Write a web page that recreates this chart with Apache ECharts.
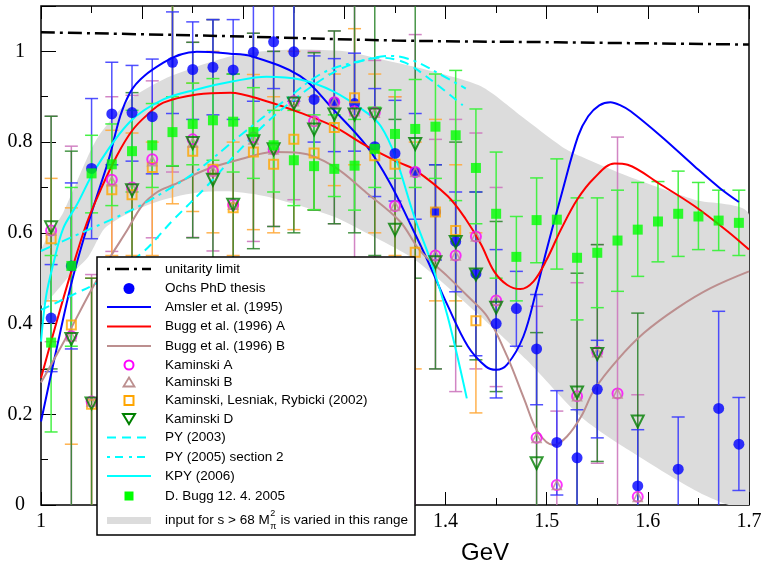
<!DOCTYPE html>
<html><head><meta charset="utf-8">
<script src="https://cdn.jsdelivr.net/npm/echarts@6/dist/echarts.min.js"></script>
<style>html,body{margin:0;padding:0;background:#fff}#c{width:763px;height:566px}</style>
</head><body><div id="c"></div>
<script>
// ---------- data ----------
const xs = [1.01,1.03,1.05,1.07,1.09,1.11,1.13,1.15,1.17,1.19,1.21,1.23,1.25,1.27,1.29,1.31,1.33,1.35,1.37,1.39,1.41,1.43,1.45,1.47,1.49,1.51,1.53,1.55,1.57,1.59,1.61,1.63,1.65,1.67,1.69];

const ochsY  = [0.412,0.527,0.742,0.862,0.865,0.856,0.976,0.960,0.965,0.959,0.998,1.021,0.999,0.894,0.888,0.885,0.790,0.775,0.734,0.646,0.581,0.510,0.400,0.433,0.344,0.138,0.104,0.255,null,0.042,null,0.079,null,0.213,0.134];
const ochsLo = [0.294,0.344,0.587,0.75,0.758,0.73,0.863,0.85,0.86,0.85,0.89,0.918,0.89,0.80,0.779,0.78,0.68,0.67,0.63,0.54,0.47,0.329,0.236,0.35,0.221,0.022,0.0,0.148,null,0.0,null,0.0,null,0.0,0.032];
const ochsHi = [0.53,0.71,0.896,0.976,0.969,0.983,1.087,1.065,1.07,1.07,1.11,1.12,1.11,0.99,0.984,0.996,0.918,0.892,0.863,0.75,0.69,0.69,0.563,0.515,0.464,0.252,0.21,0.363,null,0.166,null,0.194,null,0.427,0.237];

const buggY  = [0.358,0.527,0.731,0.751,0.780,0.793,0.822,0.840,0.848,0.845,0.822,0.793,0.760,0.747,0.741,0.748,0.785,0.818,0.829,0.834,0.815,0.743,0.642,0.547,0.628,0.629,0.545,0.556,0.583,0.607,0.625,0.642,0.636,0.627,0.622];
const buggLo = [0.161,0.35,0.644,0.66,0.69,0.70,0.748,0.75,0.76,0.734,0.72,0.69,0.66,0.651,0.68,0.65,0.70,0.72,0.70,0.72,0.671,0.62,0.50,0.45,0.534,0.52,0.408,0.435,0.471,0.504,0.536,0.548,0.563,0.561,0.55];
const buggHi = [0.55,0.70,0.815,0.84,0.87,0.885,0.90,0.93,0.94,0.95,0.92,0.87,0.87,0.86,0.86,0.85,0.877,0.915,0.938,0.95,0.958,0.873,0.778,0.636,0.721,0.763,0.677,0.677,0.694,0.711,0.713,0.736,0.711,0.694,0.694];

const kamA  = [0.605,0.372,0.228,0.717,0.700,0.762,null,0.806,0.736,0.662,0.810,0.784,0.890,0.846,0.888,0.868,0.865,0.659,0.734,0.550,0.550,0.592,0.451,null,0.148,0.044,0.240,0.337,0.246,0.018,null,null,null,null,null];
const kamB  = [0.605,0.372,0.228,0.714,0.700,0.758,null,0.799,0.736,0.662,0.806,0.784,0.890,0.846,0.888,0.868,0.865,0.659,0.734,0.550,0.550,0.592,0.451,null,0.148,0.044,0.240,0.337,0.246,0.018,null,null,null,null,null];
const kamLR = [0.587,0.397,0.222,0.695,0.684,0.744,null,0.780,0.740,0.655,0.778,0.751,0.806,0.776,0.832,0.898,0.770,0.751,0.557,0.646,0.605,0.406,null,null,null,null,null,null,null,null,null,null,null,null,null];
const kamD  = [0.612,0.366,0.224,null,0.694,null,null,0.798,0.717,0.662,0.802,0.784,0.885,0.828,0.861,0.861,0.861,0.607,0.796,0.535,0.580,0.508,0.435,null,0.092,null,0.248,0.333,null,0.184,null,null,null,null,null];

const kamALo  = [0.36,0.0,0.0,0.559,0.50,0.589,0.734,0.59,0.56,0.45,0.581,0.614,0.673,0.651,0.62,0.0,0.0,0.45,0.0,0.30,0.25,0.30,0.261,null,0.0,0.0,0.0,0.092,0.0,0.0,null,null,null,null,null];
const kamAHi  = [0.857,0.791,0.508,0.90,0.903,0.935,1.2,1.02,1.07,0.95,1.04,1.0,1.2,1.0,1.045,1.2,0.98,0.90,1.037,0.806,0.85,0.82,0.70,null,0.438,0.207,0.49,0.574,0.811,0.243,null,null,null,null,null];
const kamDLo  = [0.30,0.0,0.0,null,0.50,null,0.747,0.589,0.50,0.45,0.565,0.614,0.60,0.65,0.62,0.60,0.55,0.35,0.50,0.30,0.35,0.32,0.25,null,0.0,null,0.0,0.096,null,0.0,null,null,null,null,null];
const kamDHi  = [0.857,0.78,0.50,null,0.909,null,1.2,1.02,1.07,0.95,1.04,1.0,1.2,0.997,1.045,1.2,1.2,0.85,1.2,0.75,0.80,0.69,0.625,null,0.38,null,0.511,0.574,null,0.423,null,null,null,null,null];
const kamLRLo = [0.45,0.134,0.0,0.55,0.55,0.55,0.664,0.647,0.60,0.55,0.607,0.60,0.607,0.651,0.704,0.75,0.60,0.55,0.30,0.45,0.45,0.203,null,null,null,null,null,null,null,null,null,null,null,null,null];
const kamLRHi = [0.72,0.655,0.50,0.826,0.82,0.80,1.2,0.93,1.0,0.80,0.949,0.90,1.0,0.90,0.95,1.05,0.95,0.90,0.80,0.85,0.75,0.60,null,null,null,null,null,null,null,null,null,null,null,null,null];

const unitX = [1.0,1.157,1.35,1.51,1.7];
const unitY = [1.042,1.035,1.024,1.020,1.015];

const amslerX = [1.0,1.015,1.031,1.048,1.065,1.088,1.121,1.154,1.187,1.207,1.256,1.289,1.322,1.345,1.365,1.382,1.402,1.422,1.44,1.45,1.461,1.477,1.49,1.50,1.515,1.531,1.541,1.552,1.563,1.573,1.583,1.613,1.646,1.671,1.69];
const amslerY = [0.184,0.34,0.497,0.63,0.747,0.909,0.975,0.999,0.995,0.99,0.946,0.872,0.791,0.71,0.62,0.54,0.44,0.35,0.305,0.298,0.31,0.372,0.475,0.563,0.688,0.813,0.857,0.881,0.888,0.881,0.868,0.813,0.747,0.699,0.668];

const buggAX = [1.0,1.015,1.03,1.045,1.06,1.075,1.09,1.105,1.121,1.154,1.187,1.223,1.256,1.289,1.322,1.355,1.369,1.402,1.42,1.435,1.448,1.461,1.474,1.487,1.50,1.514,1.53,1.547,1.567,1.58,1.613,1.646,1.679,1.70];
const buggAY = [0.28,0.40,0.515,0.62,0.70,0.77,0.825,0.86,0.887,0.905,0.909,0.89,0.865,0.835,0.791,0.754,0.74,0.681,0.63,0.575,0.515,0.485,0.476,0.493,0.541,0.607,0.673,0.721,0.753,0.75,0.706,0.659,0.603,0.563];

const buggBX = [1.0,1.025,1.05,1.068,1.085,1.1,1.115,1.131,1.164,1.197,1.23,1.256,1.289,1.322,1.355,1.375,1.402,1.422,1.441,1.461,1.478,1.491,1.507,1.52,1.534,1.547,1.57,1.596,1.629,1.662,1.70];
const buggBY = [0.27,0.37,0.475,0.545,0.605,0.66,0.69,0.706,0.74,0.762,0.778,0.776,0.747,0.688,0.625,0.56,0.504,0.46,0.416,0.327,0.232,0.162,0.132,0.151,0.195,0.254,0.32,0.379,0.434,0.478,0.515];

const py03X = [1.0,1.035,1.055,1.098,1.131,1.164,1.197,1.23,1.273,1.303,1.336,1.36,1.385,1.417];
const py03Y = [0.43,0.467,0.489,0.552,0.629,0.703,0.784,0.857,0.931,0.968,0.986,0.975,0.938,0.881];

const py05X = [1.0,1.04,1.08,1.106,1.15,1.2,1.24,1.279,1.316,1.346,1.369,1.395,1.42];
const py05Y = [0.56,0.60,0.64,0.67,0.73,0.82,0.89,0.953,0.979,0.99,0.979,0.949,0.918];

const kpyX = [1.0,1.005,1.012,1.022,1.035,1.055,1.088,1.121,1.154,1.19,1.223,1.256,1.289,1.322,1.336,1.35,1.369,1.385,1.402,1.421];
const kpyY = [0.36,0.46,0.53,0.61,0.66,0.745,0.845,0.894,0.916,0.934,0.944,0.938,0.912,0.865,0.835,0.77,0.636,0.54,0.416,0.235];

const bandUpX = [1.0,1.022,1.055,1.088,1.121,1.155,1.188,1.22,1.256,1.30,1.337,1.38,1.435,1.475,1.515,1.534,1.581,1.646,1.70];
const bandUpY = [0.56,0.645,0.806,0.894,0.938,0.967,0.989,1.0,1.004,1.0,0.982,0.96,0.923,0.857,0.79,0.768,0.724,0.673,0.64];
const bandLoX = [1.0,1.03,1.047,1.063,1.088,1.121,1.155,1.188,1.223,1.289,1.33,1.37,1.435,1.48,1.534,1.581,1.646,1.68,1.70];
const bandLoY = [0.44,0.51,0.548,0.61,0.645,0.673,0.689,0.691,0.68,0.636,0.59,0.54,0.415,0.32,0.194,0.121,0.033,0.0,0.0];

const xTicks = [1.0,1.1,1.2,1.3,1.4,1.5,1.6,1.7];
const yTicks = [0,0.2,0.4,0.6,0.8,1];

const legendLabels = ['unitarity limit','Ochs PhD thesis','Amsler et al. (1995)','Bugg et al. (1996) A','Bugg et al. (1996) B','Kaminski A','Kaminski B','Kaminski, Lesniak, Rybicki (2002)','Kaminski D','PY (2003)','PY (2005) section 2','KPY (2006)','D. Bugg 12. 4. 2005'];

// ---------- helpers ----------
const Y_MAX = 1.1, Y_MIN = 0;
function pts(vals){ const o=[]; xs.forEach((x,i)=>{ if(vals[i]!=null) o.push([x, vals[i]]); }); return o; }
function pairs(X,Y){ return X.map((x,i)=>[x,Y[i]]); }
function errSeries(name, lo, hi, color, z){
  const data=[];
  xs.forEach((x,i)=>{ if(lo[i]!=null && hi[i]!=null) data.push([x, lo[i], hi[i]]); });
  return {
    type:'custom', name, z, silent:true, clip:true, data,
    encode:{x:0, y:[1,2]},
    renderItem(params, api){
      const x=api.value(0), l=api.value(1), h=api.value(2);
      const p1=api.coord([x, Math.max(l,Y_MIN)]), p2=api.coord([x, Math.min(h,Y_MAX)]);
      const hw=6.5, st={stroke:color, lineWidth:1.5};
      const ch=[{type:'line', shape:{x1:p1[0],y1:p1[1],x2:p2[0],y2:p2[1]}, style:st}];
      if(h<Y_MAX) ch.push({type:'line', shape:{x1:p2[0]-hw,y1:p2[1],x2:p2[0]+hw,y2:p2[1]}, style:st});
      if(l>Y_MIN) ch.push({type:'line', shape:{x1:p1[0]-hw,y1:p1[1],x2:p1[0]+hw,y2:p1[1]}, style:st});
      return {type:'group', children:ch};
    }
  };
}
function lineSeries(name, X, Y, color, width, dash, z){
  return {type:'line', name, data:pairs(X,Y), showSymbol:false, symbol:'none', smooth:0.35, z:z||3, silent:true,
    lineStyle:{color, width, type: dash||'solid'}};
}

const chart = echarts.init(document.getElementById('c'), null, {renderer:'canvas'});

// legend layout (graphic)
const rowsY = [269,288.5,307,326.5,346,365,382.5,400.5,419,437.5,457,476,496,520.5];
const LX0=107, LX1=151, LCX=129, LTX=165, LFONT='13.5px "Liberation Sans", Arial, sans-serif';
const g = [];
g.push({type:'rect', z:100, shape:{x:97,y:257,width:318,height:278}, style:{fill:'#fff', stroke:'#000', lineWidth:1.5}});
function lg(shape, style){ return {type:'line', z:101, shape, style}; }
g.push(lg({x1:LX0,y1:rowsY[0],x2:LX1,y2:rowsY[0]},{stroke:'#000',lineWidth:2.5,lineDash:[3,5,14,5]}));
g.push({type:'circle', z:101, shape:{cx:LCX,cy:rowsY[1],r:5.5}, style:{fill:'#0000ff'}});
g.push(lg({x1:LX0,y1:rowsY[2],x2:LX1,y2:rowsY[2]},{stroke:'#0000ff',lineWidth:2}));
g.push(lg({x1:LX0,y1:rowsY[3],x2:LX1,y2:rowsY[3]},{stroke:'#ff0000',lineWidth:2}));
g.push(lg({x1:LX0,y1:rowsY[4],x2:LX1,y2:rowsY[4]},{stroke:'#bc8f8f',lineWidth:2}));
g.push({type:'circle', z:101, shape:{cx:LCX,cy:rowsY[5],r:4.5}, style:{fill:'none',stroke:'#ff00ff',lineWidth:2}});
g.push({type:'polygon', z:101, shape:{points:[[LCX,rowsY[6]-5],[LCX+5.5,rowsY[6]+4],[LCX-5.5,rowsY[6]+4]]}, style:{fill:'none',stroke:'#bc8f8f',lineWidth:1.8}});
g.push({type:'rect', z:101, shape:{x:LCX-4.5,y:rowsY[7]-4.5,width:9,height:9}, style:{fill:'none',stroke:'#ffa500',lineWidth:2}});
g.push({type:'polygon', z:101, shape:{points:[[LCX-6,rowsY[8]-5],[LCX+6,rowsY[8]-5],[LCX,rowsY[8]+5]]}, style:{fill:'none',stroke:'#008000',lineWidth:2}});
g.push(lg({x1:LX0,y1:rowsY[9],x2:LX1,y2:rowsY[9]},{stroke:'#00ffff',lineWidth:2,lineDash:[9,6]}));
g.push(lg({x1:LX0,y1:rowsY[10],x2:LX1,y2:rowsY[10]},{stroke:'#00ffff',lineWidth:2,lineDash:[3,5,8,6]}));
g.push(lg({x1:LX0,y1:rowsY[11],x2:LX1,y2:rowsY[11]},{stroke:'#00ffff',lineWidth:2}));
g.push({type:'rect', z:101, shape:{x:LCX-4.5,y:rowsY[12]-4.5,width:9,height:9}, style:{fill:'#00ff00'}});
g.push(lg({x1:LX0,y1:rowsY[13],x2:LX1,y2:rowsY[13]},{stroke:'#dcdcdc',lineWidth:7}));
legendLabels.forEach((t,i)=>{
  g.push({type:'text', z:101, x:LTX, y:rowsY[i], style:{text:t, font:LFONT, fill:'#000', verticalAlign:'middle', textVerticalAlign:'middle'}});
});
// band legend text with M_pi^2
const cv = document.createElement('canvas').getContext('2d');
cv.font = LFONT;
const part1 = 'input for s > 68 M';
const w1 = cv.measureText(part1).width;
g.push({type:'text', z:101, x:LTX, y:rowsY[13], style:{text:part1, font:LFONT, fill:'#000', verticalAlign:'middle', textVerticalAlign:'middle'}});
g.push({type:'text', z:101, x:LTX+w1+0.5, y:rowsY[13]-7, style:{text:'2', font:'9px "Liberation Sans", Arial, sans-serif', fill:'#000', verticalAlign:'middle', textVerticalAlign:'middle'}});
g.push({type:'text', z:101, x:LTX+w1+0.5, y:rowsY[13]+6, style:{text:'π', font:'9px "Liberation Sans", Arial, sans-serif', fill:'#000', verticalAlign:'middle', textVerticalAlign:'middle'}});
g.push({type:'text', z:101, x:LTX+w1+7, y:rowsY[13], style:{text:' is varied in this range', font:LFONT, fill:'#000', verticalAlign:'middle', textVerticalAlign:'middle'}});

const tickStyle = {color:'#000', width:1};
const labFont = {fontFamily:'"Liberation Serif", "Times New Roman", serif', fontSize:20, color:'#000'};

const option = {
  animation:false,
  backgroundColor:'#fff',
  grid:[
    {left:41, right:14, top:6, bottom:61, show:true, borderColor:'#000', borderWidth:1.5, backgroundColor:'rgba(0,0,0,0)', containLabel:false, outerBoundsMode:'none'},
    {left:41, right:14, top:6, bottom:61, containLabel:false, outerBoundsMode:'none'}
  ],
  xAxis:[
    {gridIndex:0, type:'value', min:xTicks[0], max:xTicks[xTicks.length-1], interval:0.1, position:'bottom',
     axisLine:{show:false}, splitLine:{show:false},
     axisTick:{show:true, inside:true, length:13, lineStyle:tickStyle},
     minorTick:{show:true, splitNumber:2, length:7, lineStyle:tickStyle},
     axisLabel:Object.assign({margin:7, formatter:v=>String(Math.round(v*10)/10)}, labFont),
     name:'GeV', nameLocation:'middle', nameGap:36,
     nameTextStyle:{fontFamily:'"Liberation Sans", Arial, sans-serif', fontSize:24, color:'#000', padding:[0,0,0,180]}},
    {gridIndex:0, type:'value', min:xTicks[0], max:xTicks[xTicks.length-1], interval:0.1, position:'top',
     axisLine:{show:false}, splitLine:{show:false}, axisLabel:{show:false},
     axisTick:{show:true, inside:true, length:13, lineStyle:tickStyle},
     minorTick:{show:true, splitNumber:2, length:7, lineStyle:tickStyle}},
    {gridIndex:1, type:'value', min:xTicks[0], max:xTicks[xTicks.length-1], show:false}
  ],
  yAxis:[
    {gridIndex:0, type:'value', min:0, max:Y_MAX, interval:0.2, position:'left',
     axisLine:{show:false}, splitLine:{show:false},
     axisTick:{show:true, inside:true, length:15, lineStyle:tickStyle},
     axisLabel:Object.assign({margin:21, align:'center', padding:[5,0,0,0], formatter:v=>{
        const r=Math.round(v*10)/10; return yTicks.some(t=>Math.abs(t-r)<1e-6) ? String(r) : '';
     }}, labFont)},
    {gridIndex:1, type:'value', min:0, max:Y_MAX, interval:0.1, position:'left',
     axisLine:{show:false}, splitLine:{show:false}, axisLabel:{show:false},
     axisTick:{show:true, inside:true, length:7, lineStyle:tickStyle}}
  ],
  graphic:{elements:g},
  series:[
    {type:'custom', name:'band', z:1, silent:true, clip:true, data:[[1.3,0.5]],
     renderItem(params, api){
       const p=[];
       bandUpX.forEach((x,i)=>p.push(api.coord([x,bandUpY[i]])));
       for(let i=bandLoX.length-1;i>=0;i--) p.push(api.coord([bandLoX[i],bandLoY[i]]));
       return {type:'polygon', shape:{points:p, smooth:0.25}, style:{fill:'#dcdcdc'}};
     }},
    errSeries('Kaminski A err', kamALo, kamAHi, 'rgba(205,120,190,0.9)', 2),
    errSeries('Kaminski LR err', kamLRLo, kamLRHi, 'rgba(255,170,60,0.9)', 2),
    errSeries('Kaminski D err', kamDLo, kamDHi, 'rgba(40,130,40,0.85)', 2),
    errSeries('Ochs err', ochsLo, ochsHi, 'rgba(50,50,255,0.85)', 2),
    errSeries('Bugg err', buggLo, buggHi, 'rgba(60,240,60,0.95)', 2),
    lineSeries('unitarity limit', unitX, unitY, '#000', 2.5, [14,5,3,5], 3),
    lineSeries('Amsler et al. (1995)', amslerX, amslerY, '#0000ff', 2),
    lineSeries('Bugg et al. (1996) A', buggAX, buggAY, '#ff0000', 2),
    lineSeries('Bugg et al. (1996) B', buggBX, buggBY, '#bc8f8f', 2),
    lineSeries('PY (2003)', py03X, py03Y, '#00ffff', 2, [9,6]),
    lineSeries('PY (2005) section 2', py05X, py05Y, '#00ffff', 2, [10,5,3,5]),
    lineSeries('KPY (2006)', kpyX, kpyY, '#00ffff', 2),
    {type:'scatter', name:'Ochs PhD thesis', data:pts(ochsY), symbol:'circle', symbolSize:11, z:4, silent:true, itemStyle:{color:'#0000ff'}},
    {type:'scatter', name:'Kaminski, Lesniak, Rybicki (2002)', data:pts(kamLR), symbol:'rect', symbolSize:9, z:4, silent:true, itemStyle:{color:'rgba(0,0,0,0)', borderColor:'#ffa500', borderWidth:2}},
    {type:'scatter', name:'Kaminski A', data:pts(kamA), symbol:'circle', symbolSize:10, z:4, silent:true, itemStyle:{color:'rgba(0,0,0,0)', borderColor:'#ff00ff', borderWidth:2}},
    {type:'scatter', name:'Kaminski B', data:pts(kamB), symbol:'triangle', symbolSize:9, z:4, silent:true, itemStyle:{color:'rgba(0,0,0,0)', borderColor:'#bc8f8f', borderWidth:1.6}},
    {type:'scatter', name:'Kaminski D', data:pts(kamD), symbol:'triangle', symbolRotate:180, symbolSize:12, z:4, silent:true, itemStyle:{color:'rgba(0,0,0,0)', borderColor:'#008000', borderWidth:2}},
    {type:'scatter', name:'D. Bugg 12. 4. 2005', data:pts(buggY), symbol:'rect', symbolSize:10, z:4, silent:true, itemStyle:{color:'#00ff00'}}
  ]
};
chart.setOption(option);
</script>
</body></html>
